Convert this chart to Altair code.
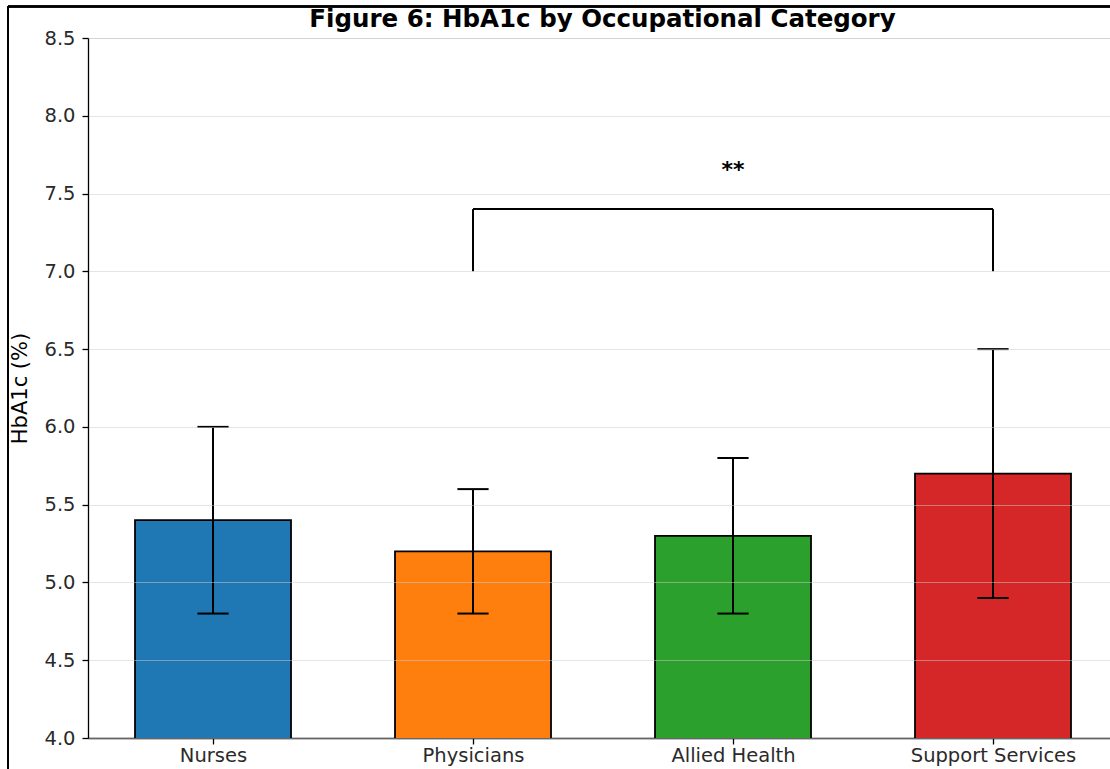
import altair as alt
import pandas as pd

# Mean HbA1c (%) and standard deviation per occupational group
groups = ["Nurses", "Physicians", "Allied Health", "Support Services"]
means = [5.4, 5.2, 5.3, 5.7]
sds = [0.6, 0.4, 0.5, 0.8]
colors = ["#1f77b4", "#ff7f0e", "#2ca02c", "#d62728"]
y_ticks = [4.0, 4.5, 5.0, 5.5, 6.0, 6.5, 7.0, 7.5, 8.0, 8.5]

# Significance bracket between two groups
bracket_pair = ["Physicians", "Support Services"]
bracket_base = 7.0
bracket_top = 7.4
bracket_label = "**"
bracket_label_y = 7.65

title_text = "Figure 6: HbA1c by Occupational Category"

FONT = "DejaVu Sans"
BAR_HALF = 0.3
CAP_HALF = 0.06
W, H = 1022, 700

df = pd.DataFrame({"group": groups, "mean": means, "sd": sds, "color": colors})
df["idx"] = range(len(groups))
df["x0"] = df["idx"] - BAR_HALF
df["x1"] = df["idx"] + BAR_HALF
df["lo"] = df["mean"] - df["sd"]
df["hi"] = df["mean"] + df["sd"]
df["c0"] = df["idx"] - CAP_HALF
df["c1"] = df["idx"] + CAP_HALF

label_expr = "[" + ",".join("'" + g + "'" for g in groups) + "][datum.value]"

x_scale = alt.Scale(domain=[-0.4808, 3.45], nice=False, zero=False)
y_scale = alt.Scale(domain=[4.0, 8.5], nice=False, zero=False)

x_axis = alt.Axis(values=list(range(len(groups))), labelExpr=label_expr, title=None,
                  grid=False, domainColor="black", domainWidth=1.3, tickColor="black",
                  tickSize=6, tickWidth=1.3, labelFont=FONT, labelFontSize=19.5,
                  labelColor="#2a2a2a", labelPadding=2)
y_axis = alt.Axis(values=y_ticks, format=".1f", title="HbA1c (%)", grid=True,
                  gridColor="#cccccc", gridOpacity=0.5, gridWidth=1,
                  domainColor="black", domainWidth=1.3, tickColor="black",
                  tickSize=6, tickWidth=1.3, labelFont=FONT, labelFontSize=19.5,
                  labelColor="#2a2a2a", labelPadding=7, titleFont=FONT,
                  titleFontSize=21, titleFontWeight="normal", titleColor="black",
                  titleAngle=270, titleX=-68, titleY=350, titleAlign="center",
                  titleBaseline="middle", zindex=1)

base = alt.Chart(df)

bars = base.mark_bar(stroke="black", strokeWidth=1.8, clip=True).encode(
    x=alt.X("x0:Q", scale=x_scale, axis=x_axis),
    x2="x1:Q",
    y=alt.Y("mean:Q", scale=y_scale, axis=y_axis),
    y2=alt.datum(0),
    color=alt.Color("color:N", scale=None),
)

err_lines = base.mark_rule(color="black", strokeWidth=2).encode(
    x="idx:Q", y="lo:Q", y2="hi:Q"
)
caps_hi = base.mark_rule(color="black", strokeWidth=2).encode(
    x="c0:Q", x2="c1:Q", y="hi:Q"
)
caps_lo = base.mark_rule(color="black", strokeWidth=2).encode(
    x="c0:Q", x2="c1:Q", y="lo:Q"
)

i0 = groups.index(bracket_pair[0])
i1 = groups.index(bracket_pair[1])
bracket_df = pd.DataFrame({
    "xa": [i0, i0, i1],
    "xb": [i1, i0, i1],
    "ya": [bracket_top, bracket_base, bracket_base],
    "yb": [bracket_top, bracket_top, bracket_top],
})
bracket = alt.Chart(bracket_df).mark_rule(color="black", strokeWidth=2).encode(
    x="xa:Q", x2="xb:Q", y="ya:Q", y2="yb:Q"
)
star_df = pd.DataFrame({"x": [(i0 + i1) / 2], "y": [bracket_label_y], "t": [bracket_label]})
star = alt.Chart(star_df).mark_text(font=FONT, fontSize=22, fontWeight="bold",
                                    baseline="middle", align="center", color="black").encode(
    x="x:Q", y="y:Q", text="t:N"
)

# Figure title, centred over the axes
title = alt.Chart(pd.DataFrame({"t": [title_text]})).mark_text(
    font=FONT, fontSize=24.5, fontWeight="bold", color="black",
    align="center", baseline="alphabetic"
).encode(x=alt.value(514.5), y=alt.value(-11), text="t:N")

# Outer frame lines along the top and left edges of the figure
frame_top = alt.Chart(df).mark_rule(color="black", strokeWidth=2).encode(
    x=alt.value(-80), x2=alt.value(W + 20), y=alt.value(-31.5)
)
frame_left = alt.Chart(df).mark_rule(color="black", strokeWidth=2).encode(
    x=alt.value(-80), y=alt.value(-31.5), y2=alt.value(H + 60)
)

chart = alt.layer(bars, err_lines, caps_hi, caps_lo, bracket, star, title,
                  frame_top, frame_left).properties(
    width=W,
    height=H,
    padding={"left": 88, "top": 38, "right": 0, "bottom": 31},
    autosize=alt.AutoSizeParams(type="none"),
).configure_view(stroke=None).configure(background="white")

chart.save("out.html", embed_options={"renderer": "svg", "actions": False})
